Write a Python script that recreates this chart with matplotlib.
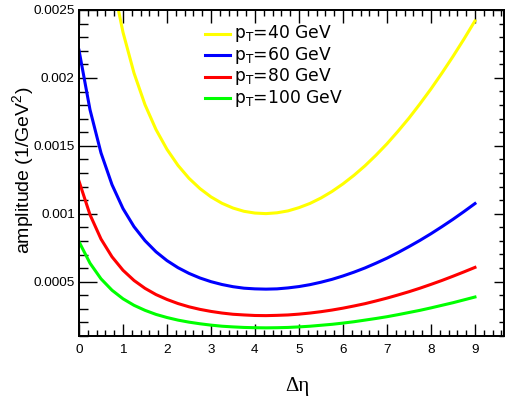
import matplotlib.pyplot as plt
from matplotlib.ticker import MultipleLocator, FormatStrFormatter

# values (amplitude in units of 1e-6 / GeV^2)
deta = [0.0, 0.25, 0.5, 0.75, 1.0, 1.25, 1.5, 1.75, 2.0, 2.25, 2.5, 2.75, 3.0,
        3.25, 3.5, 3.75, 4.0, 4.25, 4.5, 4.75, 5.0, 5.25, 5.5, 5.75, 6.0, 6.25,
        6.5, 6.75, 7.0, 7.25, 7.5, 7.75, 8.0, 8.25, 8.5, 8.75, 9.0]

amp_40 = [4960, 3973, 3258, 2731, 2336, 2036, 1803, 1620, 1474, 1356, 1261, 1185,
          1124, 1077, 1042, 1018, 1005, 1001, 1007, 1021, 1045, 1076, 1116, 1164,
          1220, 1283, 1353, 1431, 1515, 1607, 1704, 1809, 1919, 2036, 2158, 2286, 2420]
amp_60 = [2204, 1766, 1448, 1214, 1038, 905, 802, 720, 655, 603, 561, 527, 500,
          479, 463, 452, 447, 445, 447, 454, 464, 478, 496, 517, 542, 570, 601,
          636, 673, 714, 758, 804, 853, 905, 959, 1016, 1075]
amp_80 = [1240, 993, 814, 683, 584, 509, 451, 405, 369, 339, 315, 296, 281, 269,
          260, 255, 251, 250, 252, 255, 261, 269, 279, 291, 305, 321, 338, 358,
          379, 402, 426, 452, 480, 509, 540, 572, 605]
amp_100 = [794, 636, 521, 437, 374, 326, 289, 259, 236, 217, 202, 190, 180, 172,
           167, 163, 161, 160, 161, 163, 167, 172, 179, 186, 195, 205, 217, 229,
           242, 257, 273, 289, 307, 326, 345, 366, 387]

labels = ['40', '60', '80', '100']
colors = ['#ffff00', '#0000ff', '#ff0000', '#00ff00']

plt.rcParams['font.family'] = ['Liberation Sans', 'DejaVu Sans']

W, H = 509, 400
fig = plt.figure(figsize=(W / 100, H / 100), dpi=100)
ax = fig.add_axes([79 / W, 1 - 336 / H, 425 / W, 326 / H])

for amp, c in zip([amp_40, amp_60, amp_80, amp_100], colors):
    ax.plot(deta, [v * 1e-6 for v in amp], color=c, lw=2.2)

xlim = (0, 9.66)
ylim = (0.0001, 0.0025)
ax.set_xlim(*xlim)
ax.set_ylim(*ylim)

ax.xaxis.set_major_locator(MultipleLocator(1))
ax.xaxis.set_minor_locator(MultipleLocator(0.2))
ax.yaxis.set_major_locator(MultipleLocator(0.0005))
ax.yaxis.set_minor_locator(MultipleLocator(0.0001))
ax.xaxis.set_major_formatter(FormatStrFormatter('%g'))
ax.yaxis.set_major_formatter(FormatStrFormatter('%g'))

ax.tick_params(axis='x', which='major', direction='in', length=9, width=1,
               top=True, labelsize=9.7, pad=6)
ax.tick_params(axis='x', which='minor', direction='in', length=4.5, width=1, top=True)
ax.tick_params(axis='y', which='major', direction='in', length=13, width=1,
               left=True, right=False, labelsize=9.7, pad=3)
ax.tick_params(axis='y', which='minor', direction='in', length=6.5, width=1,
               left=True, right=False)
for s in ax.spines.values():
    s.set_linewidth(1.3)

# shorter ticks on the right side, as in the ROOT canvas
ax_r = ax.twinx()
ax_r.set_ylim(*ylim)
ax_r.yaxis.set_major_locator(MultipleLocator(0.0005))
ax_r.yaxis.set_minor_locator(MultipleLocator(0.0001))
ax_r.tick_params(which='major', direction='in', length=7, width=1, labelright=False)
ax_r.tick_params(which='minor', direction='in', length=3.5, width=1)
for s in ax_r.spines.values():
    s.set_linewidth(1.3)

# axis titles
fig.text(24 / W, 1 - 170 / H, 'amplitude (1/GeV$^{\\mathregular{2}}$)', rotation=90,
         ha='center', va='center', fontsize=14)
fig.text(297 / W, 1 - 387 / H, '\u0394\u03b7', ha='center', va='center',
         fontsize=15, family=['Liberation Serif', 'DejaVu Serif'])

# legend
for i, (lab, c) in enumerate(zip(labels, colors)):
    y = 1 - (33.5 + 21.6 * i) / H
    fig.add_artist(plt.Line2D([205 / W, 230 / W], [y, y], color=c, lw=2.2,
                              transform=fig.transFigure))
    fig.text(234 / W, y, '$\\mathregular{p_T}$=' + lab + ' GeV', ha='left',
             va='center', fontsize=12.3, family=['DejaVu Sans'])

fig.savefig('out.png', dpi=100)
